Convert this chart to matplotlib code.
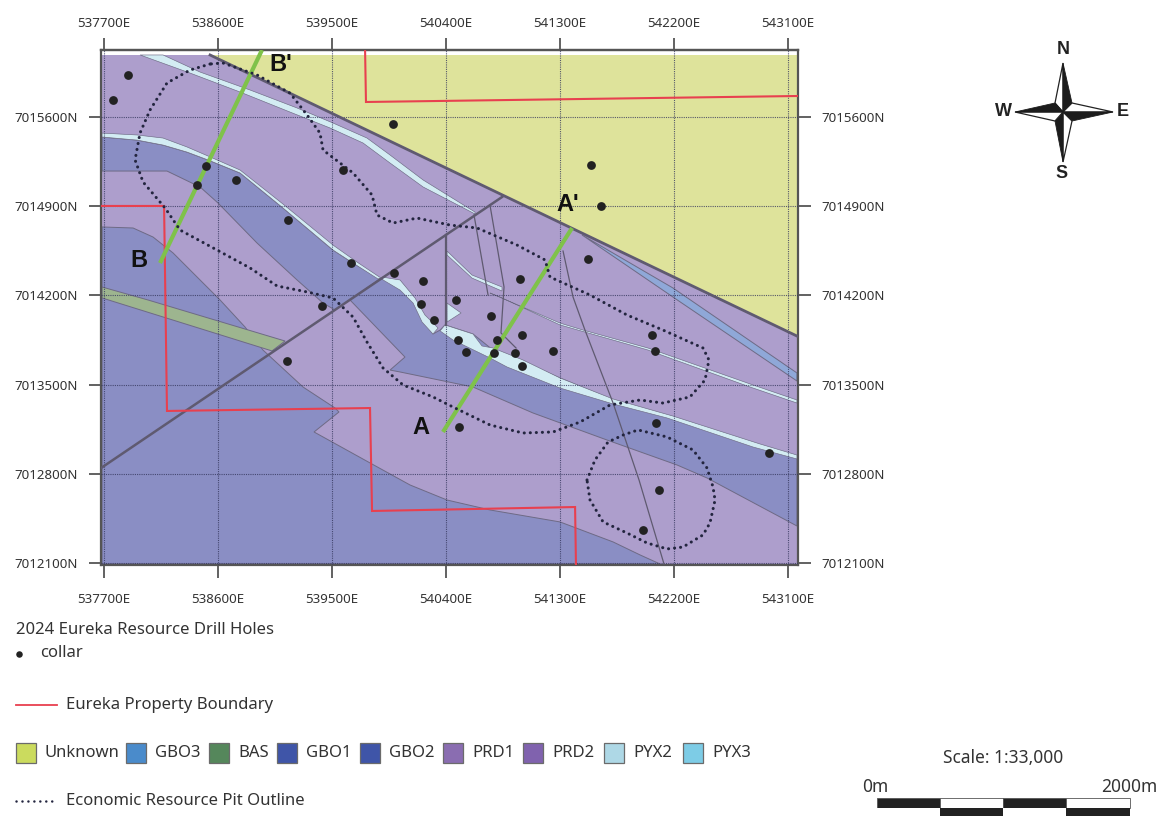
import matplotlib
matplotlib.use("Agg")
import matplotlib.pyplot as plt
from matplotlib.patches import Polygon, Rectangle

W, H = 1161, 816
FONT = "Noto Sans"
plt.rcParams["font.family"] = [FONT, "DejaVu Sans"]

# ---------- data: map grid ----------
x_ticks = [537700, 538600, 539500, 540400, 541300, 542200, 543100]
y_ticks = [7012100, 7012800, 7013500, 7014200, 7014900, 7015600]
x_labels = ["537700E", "538600E", "539500E", "540400E", "541300E", "542200E", "543100E"]
y_labels = ["7012100N", "7012800N", "7013500N", "7014200N", "7014900N", "7015600N"]

# ---------- data: drill collars ----------
collar_e = [537890, 537770, 539980, 541545, 541624, 538505, 538434, 538742, 539153, 539587, 539650, 539990,
            540219, 540203, 540479, 540305, 540755, 540984, 541521, 539421, 540495, 540558, 540803, 540779,
            540945, 541000, 541245, 541000, 542026, 542050, 539145, 540503, 542058, 542950, 542082, 541955]
collar_n = [7015930, 7015730, 7015545, 7015223, 7014902, 7015215, 7015066, 7015106, 7014792, 7015184, 7014454, 7014376,
            7014313, 7014132, 7014164, 7014007, 7014038, 7014329, 7014486, 7014117, 7013850, 7013756, 7013850, 7013748,
            7013748, 7013889, 7013764, 7013646, 7013889, 7013764, 7013685, 7013167, 7013199, 7012963, 7012673, 7012359]

# ---------- data: geology units ----------
map_e = [537684, 543171, 543171, 537684]
map_n = [7016087, 7016087, 7012092, 7012092]

unknown_e = [538537, 543171, 543171]
unknown_n = [7016087, 7016087, 7013881]

gbo3_e = [541474, 542192, 543171, 543171, 542192]
gbo3_n = [7014674, 7014258, 7013591, 7013528, 7014187]

band_w_e = [537684, 537961, 538166, 538355, 538521, 538774, 539113, 539508, 539666, 539879,
            539524, 539429, 539224, 538908, 538600, 538458, 538197, 537684]
band_w_n = [7015443, 7015419, 7015380, 7015325, 7015263, 7015161, 7014886, 7014556, 7014454, 7014329,
            7014085, 7014140, 7014321, 7014611, 7014925, 7015051, 7015176, 7015176]

band_e_e = [539879, 540037, 540140, 540219, 540297, 540353, 540392, 540613, 540771, 541008, 541300, 541719,
            542192, 542879, 543171, 543171, 542461, 542224, 541671, 541087, 540613, 540037, 539958, 540076, 539642]
band_e_n = [7014329, 7014313, 7014187, 7014007, 7013897, 7013928, 7013968, 7013897, 7013771, 7013677, 7013552, 7013379,
            7013246, 7013026, 7012940, 7012390, 7012767, 7012869, 7013065, 7013277, 7013481, 7013599, 7013614, 7013716, 7014164]

gbo_low_e = [537684, 537929, 538087, 538245, 538458, 538616, 538813, 538955, 539271, 539524, 539555, 539358,
             539800, 540116, 540408, 540747, 541300, 541719, 541932, 542090, 537684]
gbo_low_n = [7014737, 7014729, 7014658, 7014533, 7014321, 7014164, 7013952, 7013771, 7013481, 7013316, 7013285, 7013128,
             7012885, 7012712, 7012594, 7012516, 7012422, 7012265, 7012163, 7012092, 7012092]

bas_e = [537684, 538047, 539129, 539026, 537684]
bas_n = [7014266, 7014164, 7013842, 7013764, 7014180]

pyx_top_e = [538166, 538458, 538853, 539224, 539508, 539776, 539958, 540219, 540629,
             540629, 540219, 539958, 539745, 539484, 539168, 538774, 538379, 537984]
pyx_top_n = [7016087, 7015953, 7015812, 7015671, 7015553, 7015435, 7015302, 7015106, 7014854,
             7014839, 7015051, 7015239, 7015396, 7015514, 7015639, 7015796, 7015945, 7016087]

pyx_west_e = [537684, 537961, 538166, 538355, 538521, 538774, 539113, 539508, 539697, 539887,
              539863, 539666, 539508, 539113, 538774, 538521, 538355, 538166, 537961, 537684]
pyx_west_n = [7015474, 7015459, 7015435, 7015365, 7015294, 7015184, 7014917, 7014595, 7014462, 7014336,
              7014329, 7014454, 7014556, 7014886, 7015161, 7015263, 7015325, 7015380, 7015419, 7015443]

pyx_mid_e = [539895, 540037, 540155, 540234, 540337, 540297, 540211, 540140, 540037, 539903]
pyx_mid_n = [7014344, 7014321, 7014180, 7014046, 7013944, 7013897, 7013991, 7014140, 7014242, 7014321]

pyx_east_e = [540392, 540613, 540684, 540771, 541008, 541300, 541719, 542192, 542879, 543171,
              543171, 542824, 542145, 541719, 541300, 540882, 540747, 540455, 540353]
pyx_east_n = [7013968, 7013897, 7013803, 7013787, 7013693, 7013552, 7013387, 7013253, 7013034, 7012947,
              7012916, 7013010, 7013238, 7013348, 7013473, 7013638, 7013709, 7013850, 7013921]

pyx_piece_e = [540408, 540519, 540408]
pyx_piece_n = [7014140, 7014062, 7013991]

pyx_ne1_e = [540408, 540605, 540842, 540842, 540605, 540408]
pyx_ne1_n = [7014548, 7014360, 7014266, 7014234, 7014336, 7014517]

pyx_ne2_e = [540747, 541300, 541482, 541995, 542824, 543171, 543171, 542800, 542034, 541995, 541300, 540826]
pyx_ne2_n = [7014219, 7013983, 7013928, 7013787, 7013497, 7013379, 7013355, 7013481, 7013756, 7013771, 7013968, 7014187]

# ---------- data: lines ----------
contact_e = [538537, 543171]
contact_n = [7016087, 7013881]
fault_main_e = [537676, 540842]
fault_main_n = [7012845, 7014972]
fault_a_e = [541324, 541403, 541497, 541719, 541924, 542121]
fault_a_n = [7014548, 7014187, 7013928, 7013355, 7012751, 7012092]
fault_b_e = [540621, 540732]
fault_b_n = [7014831, 7014203]
fault_c_e = [540747, 540858, 540834, 540953]
fault_c_n = [7014909, 7014266, 7013905, 7013787]
fault_d_e = [540400, 540400]
fault_d_n = [7014674, 7013968]

prop1_e = [539761, 539768, 543179]
prop1_n = [7016126, 7015718, 7015765]
prop2_e = [537676, 538174, 538197, 539800, 539816, 541419, 541426]
prop2_n = [7014902, 7014902, 7013293, 7013316, 7012508, 7012539, 7012084]

sectionB_e = [538142, 538947]
sectionB_n = [7014454, 7016126]
sectionA_e = [540376, 541395]
sectionA_n = [7013128, 7014729]
section_names = ["A", "A'", "B", "B'"]
section_lab_e = [540203, 541363, 537976, 539097]
section_lab_n = [7013167, 7014917, 7014470, 7016016]

pit1_e = [538537, 538379, 538197, 538063, 537984, 537945, 538008, 538182, 538300, 538592, 538853, 539066, 539303,
          539508, 539666, 539776, 539903, 540061, 540297, 540455, 540747, 541008, 541245, 541458, 541695, 541932,
          542113, 542326, 542445, 542476, 542429, 542113, 541829, 541537, 541221, 541182, 540961, 540645, 540432,
          540171, 539982, 539855, 539816, 539666, 539429, 539405, 539303, 539168, 538908, 538639, 538537]
pit1_n = [7016016, 7015969, 7015867, 7015655, 7015474, 7015263, 7015090, 7014886, 7014713, 7014556, 7014415, 7014274, 7014227,
          7014180, 7014030, 7013834, 7013630, 7013497, 7013403, 7013324, 7013183, 7013120, 7013128, 7013206, 7013340, 7013379,
          7013355, 7013403, 7013536, 7013693, 7013787, 7013928, 7014046, 7014203, 7014344, 7014478, 7014595, 7014729, 7014752,
          7014807, 7014768, 7014831, 7014988, 7015161, 7015341, 7015474, 7015616, 7015788, 7015930, 7016024, 7016016]
pit2_e = [541513, 541576, 541679, 541798, 541916, 542145, 542350, 542461, 542508, 542524, 542484, 542429, 542271,
          542145, 541987, 541829, 541640, 541537, 541513]
pit2_n = [7012751, 7012908, 7013049, 7013104, 7013144, 7013089, 7012987, 7012845, 7012696, 7012594, 7012414, 7012320, 7012225,
          7012210, 7012257, 7012335, 7012422, 7012594, 7012751]

# ---------- data: legend ----------
legend_names = ["Unknown", "GBO3", "BAS", "GBO1", "GBO2", "PRD1", "PRD2", "PYX2", "PYX3"]
legend_colors = ["#CBDB5E", "#4A8BCB", "#55875B", "#3F55A8", "#3F55A8", "#8A6DB1", "#8062AE", "#AED8E6", "#7DCCE6"]

# ---------- colours ----------
C_PRD = "#AD9ECC"
C_GBO = "#8A8EC4"
C_UNK = "#DEE39B"
C_GBO3 = "#8FA8D8"
C_BAS = "#9DB58F"
C_PYX = "#D3ECF3"
C_EDGE = "#6E6A85"
C_FAULT = "#5F5A70"
C_RED = "#E8404F"
C_GREEN = "#7FC24A"
C_TXT = "#333333"
C_PIT = "#23253F"
PIT_DASH = (0, (0.03, 1.95))

fig = plt.figure(figsize=(W / 100, H / 100), dpi=100)
ax = fig.add_axes([101 / W, 1 - 565 / H, 697 / W, 515 / H])
ax.set_xlim(537676, 543179)
ax.set_ylim(7012084, 7016126)


def poly(e, n, color, z=1, edge=C_EDGE, lw=0.7):
    ax.add_patch(Polygon(list(zip(e, n)), closed=True, facecolor=color, edgecolor=edge, linewidth=lw, zorder=z))


poly(map_e, map_n, C_PRD, z=1, edge="none", lw=0)
poly(gbo_low_e, gbo_low_n, C_GBO, z=1.1)
poly(band_w_e, band_w_n, C_GBO, z=1.1)
poly(band_e_e, band_e_n, C_GBO, z=1.1)
poly(bas_e, bas_n, C_BAS, z=1.2)
poly(gbo3_e, gbo3_n, C_GBO3, z=1.2)
for e, n in [(pyx_top_e, pyx_top_n), (pyx_west_e, pyx_west_n), (pyx_mid_e, pyx_mid_n), (pyx_east_e, pyx_east_n),
             (pyx_piece_e, pyx_piece_n), (pyx_ne1_e, pyx_ne1_n), (pyx_ne2_e, pyx_ne2_n)]:
    poly(e, n, C_PYX, z=1.3, lw=0.45)
poly(unknown_e, unknown_n, C_UNK, z=1.4, edge="none", lw=0)

ax.set_xticks(x_ticks, x_labels)
ax.set_yticks(y_ticks, y_labels)
ax.grid(True, linestyle=(0, (1, 1)), color="#34365C", linewidth=0.8, alpha=0.8)
ax.set_axisbelow(False)
TICK = dict(length=9, width=1.3, color="#555555", labelsize=9.6, labelcolor=C_TXT)
ax.tick_params(axis="y", right=True, labelright=True, pad=8, **TICK)
ax.tick_params(axis="x", top=False, pad=11, **TICK)
top_axis = ax.secondary_xaxis("top")
top_axis.set_xticks(x_ticks, x_labels)
top_axis.tick_params(axis="x", pad=5.5, **TICK)
for s in list(ax.spines.values()) + list(top_axis.spines.values()):
    s.set_color("#555555")
    s.set_linewidth(1.6)

ax.plot(contact_e, contact_n, color=C_FAULT, lw=2.0, zorder=3)
ax.plot(fault_main_e, fault_main_n, color=C_FAULT, lw=1.8, zorder=3)
ax.plot(fault_d_e, fault_d_n, color=C_FAULT, lw=1.6, zorder=3)
for e, n in [(fault_a_e, fault_a_n), (fault_b_e, fault_b_n), (fault_c_e, fault_c_n)]:
    ax.plot(e, n, color=C_FAULT, lw=0.9, zorder=3)
for e, n in [(prop1_e, prop1_n), (prop2_e, prop2_n)]:
    ax.plot(e, n, color=C_RED, lw=1.5, zorder=3.2, solid_joinstyle="miter")
for e, n in [(sectionA_e, sectionA_n), (sectionB_e, sectionB_n)]:
    ax.plot(e, n, color=C_GREEN, lw=3.0, zorder=3.4, solid_capstyle="butt")
for e, n in [(pit1_e, pit1_n), (pit2_e, pit2_n)]:
    ax.plot(e, n, color=C_PIT, lw=2.2, linestyle=PIT_DASH, dash_capstyle="round", zorder=3.6)
ax.scatter(collar_e, collar_n, s=40, color="#222222", linewidths=0, zorder=4)
for name, e, n in zip(section_names, section_lab_e, section_lab_n):
    ax.text(e, n, name, fontsize=17, fontweight="bold", family="Liberation Sans", color="#111111",
            ha="center", va="center", zorder=5)

# ---------- page furniture in pixel space ----------
pg = fig.add_axes([0, 0, 1, 1], zorder=10)
pg.set_xlim(0, W)
pg.set_ylim(H, 0)
pg.axis("off")
pg.patch.set_alpha(0)

LEG = dict(fontsize=12, color=C_TXT, va="center", ha="left")
pg.text(16, 630, "2024 Eureka Resource Drill Holes", **LEG)
pg.scatter([19], [654], s=22, color="#222222", linewidths=0)
pg.text(40, 653, "collar", **LEG)
pg.plot([16, 57], [705, 705], color=C_RED, lw=1.3)
pg.text(66, 705, "Eureka Property Boundary", **LEG)
swatch_x = [16, 126, 209, 277, 360, 443, 523, 604, 683]
for sx, name, col in zip(swatch_x, legend_names, legend_colors):
    pg.add_patch(Rectangle((sx, 743), 20, 20, facecolor=col, edgecolor="#6B6B6B", linewidth=0.9))
    pg.text(sx + 29, 753, name, **LEG)
pg.plot([16, 54], [801, 801], color=C_PIT, lw=1.8, linestyle=(0, (0.03, 2.35)), dash_capstyle="round")
pg.text(66, 801, "Economic Resource Pit Outline", **LEG)

# north arrow
cx, cy = 1063, 112
tips = [(1063, 63), (1113, 112), (1063, 162), (1015, 112)]
shoulders = [(1072, 103), (1072, 121), (1055, 121), (1055, 103)]
for i in range(4):
    tip = tips[i]
    s1 = shoulders[i]
    s0 = shoulders[(i - 1) % 4]
    pg.add_patch(Polygon([tip, s0, (cx, cy)], closed=True, facecolor="white", edgecolor="#222222", linewidth=0.9))
    pg.add_patch(Polygon([tip, s1, (cx, cy)], closed=True, facecolor="#1C1C1C", edgecolor="#1C1C1C", linewidth=0.6))
COMP = dict(fontsize=13, fontweight="bold", family="Liberation Sans", color="#222222", ha="center", va="center")
pg.text(1063, 50, "N", **COMP)
pg.text(1062, 173, "S", **COMP)
pg.text(1003, 112, "W", **COMP)
pg.text(1123, 112, "E", **COMP)

# scale bar
pg.text(1003, 758, "Scale: 1:33,000", fontsize=12.5, color=C_TXT, ha="center", va="center")
pg.text(875, 787, "0m", fontsize=12.5, color=C_TXT, ha="center", va="center")
pg.text(1157, 787, "2000m", fontsize=12.5, color=C_TXT, ha="right", va="center")
edges = [877, 940, 1003, 1066, 1130]
for i in range(4):
    top, low = ("#222222", "white") if i % 2 == 0 else ("white", "#222222")
    pg.add_patch(Rectangle((edges[i], 798), edges[i + 1] - edges[i], 10, facecolor=top, edgecolor="#555555", linewidth=0.6))
    pg.add_patch(Rectangle((edges[i], 808), edges[i + 1] - edges[i], 9, facecolor=low, edgecolor="none"))

fig.savefig("out.png", dpi=100)
